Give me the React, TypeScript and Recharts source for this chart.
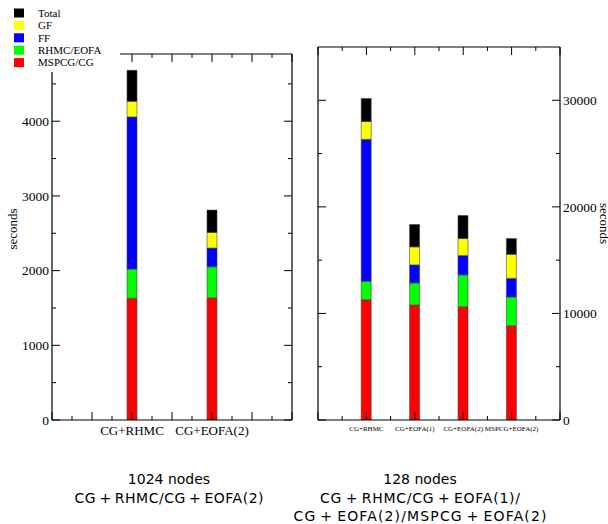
import React from 'react';
import { BarChart, Bar, XAxis, YAxis } from 'recharts';

// ---- data ----
const seriesKeys = ['cg', 'rhmc', 'ff', 'gf', 'total'];
const seriesNames = ['MSPCG/CG', 'RHMC/EOFA', 'FF', 'GF', 'Total'];
const seriesColors = ['#ff0000', '#00ff00', '#0000ff', '#ffff00', '#000000'];

const leftCategories = ['CG+RHMC', 'CG+EOFA(2)'];
const leftPositions = [2, 4];
const leftCG = [1631, 1635];
const leftRHMC = [389, 416];
const leftFF = [2038, 251];
const leftGF = [209, 209];
const leftTotal = [415, 300];

const rightCategories = ['CG+RHMC', 'CG+EOFA(1)', 'CG+EOFA(2)', 'MSPCG+EOFA(2)'];
const rightPositions = [2, 4, 6, 8];
const rightCG = [11289, 10790, 10630, 8843];
const rightRHMC = [1721, 2070, 2982, 2700];
const rightFF = [13330, 1693, 1816, 1750];
const rightGF = [1665, 1693, 1599, 2257];
const rightTotal = [2164, 2098, 2164, 1477];

const leftXTicks = [0, 0.5, 1, 1.5, 2, 2.5, 3, 3.5, 4, 4.5, 5, 5.5, 6];
const rightXTicks = [0, 1, 2, 3, 4, 5, 6, 7, 8, 9, 10];
const leftYTicks = [0, 500, 1000, 1500, 2000, 2500, 3000, 3500, 4000, 4500];
const rightYTicks = [0, 5000, 10000, 15000, 20000, 25000, 30000];

const leftCaption = ['1024 nodes', 'CG\u2009+\u2009RHMC/CG\u2009+\u2009EOFA(2)'];
const rightCaption = ['128 nodes', 'CG\u2009+\u2009RHMC/CG\u2009+\u2009EOFA(1)/', 'CG\u2009+\u2009EOFA(2)/MSPCG\u2009+\u2009EOFA(2)'];
const leftCaptionWidths = [0, 189];
const rightCaptionWidths = [0, 200, 253];
const yLabel = 'seconds';

const leftData = leftCategories.map((name, i) => ({
  name, x: leftPositions[i], cg: leftCG[i], rhmc: leftRHMC[i], ff: leftFF[i], gf: leftGF[i], total: leftTotal[i],
}));
const rightData = rightCategories.map((name, i) => ({
  name, x: rightPositions[i], cg: rightCG[i], rhmc: rightRHMC[i], ff: rightFF[i], gf: rightGF[i], total: rightTotal[i],
}));

const SERIF = '"Liberation Serif", "Times New Roman", serif';
const SANS = '"DejaVu Sans", Verdana, sans-serif';

const isMajor = (v: number, step: number) => Math.abs(v / step - Math.round(v / step)) < 1e-6;

const makeXTick = (dir: number, step: number, positions: number[] | null, cats: string[] | null, fontSize: number, dy: number) =>
  (props: any) => {
    const { x, y, payload } = props;
    const v = payload.value;
    const len = isMajor(v, step) ? 8 : 4;
    const idx = positions ? positions.indexOf(v) : -1;
    return (
      <g>
        <line x1={x} y1={y} x2={x} y2={y + dir * len} stroke="#000" strokeWidth={1} />
        {idx >= 0 && cats ? (
          <text x={x} y={y + dy} textAnchor="middle" fontFamily={SERIF} fontSize={fontSize} fill="#000">
            {cats[idx]}
          </text>
        ) : null}
      </g>
    );
  };

const makeYTick = (dir: number, step: number, showLabels: boolean, fontSize: number) =>
  (props: any) => {
    const { x, y, payload } = props;
    const v = payload.value;
    const major = isMajor(v, step);
    const len = major ? 8 : 4;
    return (
      <g>
        <line x1={x} y1={y} x2={x + dir * len} y2={y} stroke="#000" strokeWidth={1} />
        {showLabels && major ? (
          <text x={x - dir * 3} y={y} dy="0.35em" textAnchor={dir > 0 ? 'end' : 'start'} fontFamily={SERIF} fontSize={fontSize} fill="#000">
            {v}
          </text>
        ) : null}
      </g>
    );
  };

const axisLine = { stroke: '#000', strokeWidth: 1.2 };

const renderBars = () =>
  seriesKeys.map((k, i) => (
    <Bar key={k} dataKey={k} stackId="s" fill={seriesColors[i]} stroke="#444" strokeWidth={0.6} barSize={10} isAnimationActive={false} />
  ));

const Caption = ({ lines, widths, cx }: { lines: string[]; widths: number[]; cx: number }) => (
  <>
    {lines.map((t, i) => (
      <text key={t} x={cx} y={484 + i * 18.5} textAnchor="middle" fontFamily={SANS} fontSize={14} fill="#000"
        {...(widths[i] ? { textLength: widths[i], lengthAdjust: 'spacing' } : {})}>
        {t}
      </text>
    ))}
  </>
);

export default function App() {
  return (
    <div style={{ position: 'absolute', left: 0, top: 0, width: 608, height: 524, background: '#fff', overflow: 'hidden' }}>
      <div style={{ position: 'absolute', left: 0, top: 0 }}>
        <BarChart width={300} height={524} data={leftData} margin={{ top: 34, right: 0, bottom: 74, left: 0 }}>
          <XAxis xAxisId={0} dataKey="x" type="number" domain={[0, 6]} allowDataOverflow ticks={leftXTicks} interval={0}
            tickSize={0} tickMargin={0} height={30} axisLine={axisLine} tickLine={false}
            tick={makeXTick(-1, 1, leftPositions, leftCategories, 13, 15)} />
          <XAxis xAxisId="top" orientation="top" dataKey="x" type="number" domain={[0, 6]} allowDataOverflow ticks={leftXTicks} interval={0}
            tickSize={0} tickMargin={0} height={20} axisLine={axisLine} tickLine={false}
            tick={makeXTick(1, 1, null, null, 13, 0)} />
          <YAxis yAxisId={0} type="number" domain={[0, 4900]} allowDataOverflow ticks={leftYTicks} interval={0}
            tickSize={0} tickMargin={0} width={52} axisLine={axisLine} tickLine={false}
            tick={makeYTick(1, 1000, true, 13.5)}
            label={{
              content: (p: any) => {
                const vb = p.viewBox;
                const cx = 17;
                const cy = vb.y + vb.height / 2 - 8;
                return (
                  <text x={cx} y={cy} transform={`rotate(-90 ${cx} ${cy})`} textAnchor="middle" fontFamily={SERIF} fontSize={13} fill="#000">
                    {yLabel}
                  </text>
                );
              },
            }} />
          <YAxis yAxisId="r" orientation="right" type="number" domain={[0, 4900]} allowDataOverflow ticks={leftYTicks} interval={0}
            tickSize={0} tickMargin={0} width={8} axisLine={axisLine} tickLine={false}
            tick={makeYTick(-1, 1000, false, 13.5)} />
          {renderBars()}
        </BarChart>
      </div>
      <div style={{ position: 'absolute', left: 300, top: 0 }}>
        <BarChart width={308} height={524} data={rightData} margin={{ top: 27, right: 0, bottom: 74, left: 0 }}>
          <XAxis xAxisId={0} dataKey="x" type="number" domain={[0, 10]} allowDataOverflow ticks={rightXTicks} interval={0}
            tickSize={0} tickMargin={0} height={30} axisLine={axisLine} tickLine={false}
            tick={makeXTick(-1, 2, rightPositions, rightCategories, 7, 11)} />
          <XAxis xAxisId="top" orientation="top" dataKey="x" type="number" domain={[0, 10]} allowDataOverflow ticks={rightXTicks} interval={0}
            tickSize={0} tickMargin={0} height={20} axisLine={axisLine} tickLine={false}
            tick={makeXTick(1, 2, null, null, 13, 0)} />
          <YAxis yAxisId={0} type="number" domain={[0, 35000]} allowDataOverflow ticks={rightYTicks} interval={0}
            tickSize={0} tickMargin={0} width={18} axisLine={axisLine} tickLine={false}
            tick={makeYTick(1, 10000, false, 13.5)} />
          <YAxis yAxisId="r" orientation="right" type="number" domain={[0, 35000]} allowDataOverflow ticks={rightYTicks} interval={0}
            tickSize={0} tickMargin={0} width={48} axisLine={axisLine} tickLine={false}
            tick={makeYTick(-1, 10000, true, 13.5)}
            label={{
              content: (p: any) => {
                const vb = p.viewBox;
                const cx = vb.x + 40;
                const cy = vb.y + vb.height / 2 - 10;
                return (
                  <text x={cx} y={cy} transform={`rotate(90 ${cx} ${cy})`} textAnchor="middle" fontFamily={SERIF} fontSize={13} fill="#000">
                    {yLabel}
                  </text>
                );
              },
            }} />
          {renderBars()}
        </BarChart>
      </div>
      <svg width={608} height={524} style={{ position: 'absolute', left: 0, top: 0, pointerEvents: 'none' }}>
        <rect x={0} y={0} width={120} height={72} fill="#fff" />
        {seriesNames.map((n, j) => {
          const i = seriesNames.length - 1 - j;
          const cy = 13 + j * 12.4;
          return (
            <g key={n}>
              <rect x={14} y={cy - 4.5} width={10} height={9} fill={seriesColors[i]} />
              <text x={38} y={cy} dy="0.35em" fontFamily={SERIF} fontSize={11} fill="#000">{seriesNames[i]}</text>
            </g>
          );
        })}
        <Caption lines={leftCaption} widths={leftCaptionWidths} cx={169} />
        <Caption lines={rightCaption} widths={rightCaptionWidths} cx={420} />
      </svg>
    </div>
  );
}
